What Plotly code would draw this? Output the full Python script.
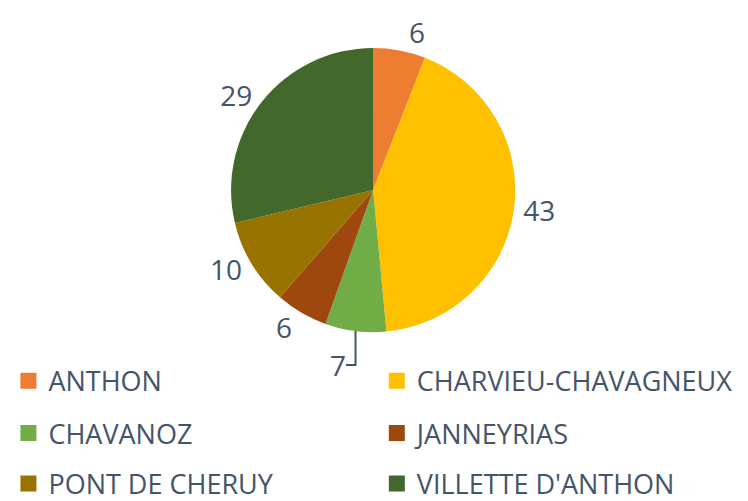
import plotly.graph_objects as go

communes = ["ANTHON", "CHARVIEU-CHAVAGNEUX", "CHAVANOZ", "JANNEYRIAS",
            "PONT DE CHERUY", "VILLETTE D'ANTHON"]
valeurs = [6, 43, 7, 6, 10, 29]
couleurs = ["#ED7D31", "#FFC000", "#70AD47", "#9E480E", "#997300", "#43682B"]

TXT = "#44546A"
FONT = "Open Sans, Roboto, Arial, sans-serif"

fig = go.Figure()
fig.add_trace(go.Pie(
    labels=communes, values=valeurs, sort=False, direction="clockwise",
    rotation=0, marker=dict(colors=couleurs, line=dict(width=0)),
    textinfo="value", textposition="outside",
    textfont=dict(size=28, color=TXT, family=FONT),
    showlegend=False, domain=dict(x=[0.16, 0.94], y=[0.36, 1.0]),
    hoverinfo="label+value",
))

legend_names = ["legend", "legend2", "legend3", "legend4", "legend5", "legend6"]
col_x = [-0.045, 0.556]
rows_y = [1 - 376 / 501, 1 - 435 / 501, 1 - 492 / 501]
layout_leg = {}
for i, (name, col) in enumerate(zip(communes, couleurs)):
    ln = legend_names[i]
    fig.add_trace(go.Scatter(
        x=[None], y=[None], mode="markers", name=name,
        marker=dict(symbol="square", size=18, color=col),
        legend=ln, showlegend=True,
    ))
    layout_leg[ln] = dict(orientation="h", xanchor="left", x=col_x[i % 2],
                          yanchor="middle", y=rows_y[i // 2],
                          font=dict(size=27, color=TXT, family=FONT),
                          bgcolor="rgba(0,0,0,0)", itemclick=False)

fig.update_layout(
    width=748, height=501,
    margin=dict(l=0, r=0, t=0, b=0),
    paper_bgcolor="white", plot_bgcolor="white",
    xaxis=dict(visible=False), yaxis=dict(visible=False),
    **layout_leg,
)
fig.write_html("out.html")
